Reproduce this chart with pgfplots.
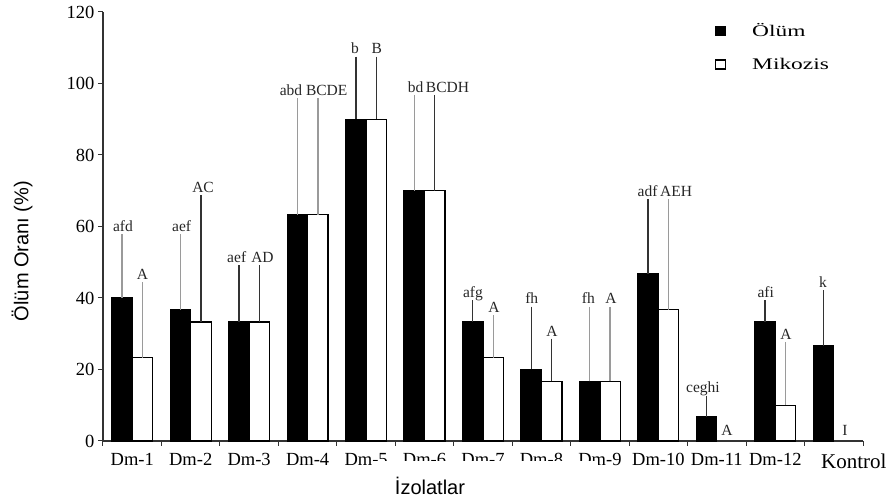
\documentclass[border=0pt]{standalone}
\usepackage{graphicx}
\usepackage{fontspec}
\setmainfont{Liberation Serif}
\setsansfont{Liberation Sans}
\usepackage{pgfplots}
\pgfplotsset{compat=1.18}
\usepackage{pgfplotstable}
\newcommand{\fs}[1]{\fontsize{#1bp}{#1bp}\selectfont}
\definecolor{errdark}{HTML}{333333}
\definecolor{errgray}{HTML}{9A9A9A}

% x  value  error
\pgfplotstableread{
x y e
1 36.7 20.6
3 63.3 32.1
5 70.0 26.3
8 16.7 20.4
0 40.0 17.3
}\olumgray
\pgfplotstableread{
x y e
2 33.3 15.3
4 90.0 17.0
6 33.3 5.5
7 20.0 17.1
9 46.7 20.5
10 6.7 5.5
11 33.3 5.5
12 26.7 14.9
}\olumdark
\pgfplotstableread{
x y e
0 23.3 20.6
3 63.3 32.1
6 23.3 11.3
8 16.7 20.4
9 36.7 30.5
11 10.0 17.1
}\mikgray
\pgfplotstableread{
x y e
1 33.3 35.0
2 33.3 15.3
4 90.0 17.0
5 70.0 26.3
7 16.7 11.4
}\mikdark
\pgfplotstableread{
x y l
-0.158 57.3 afd
0.176 43.9 A
0.846 57.3 aef
1.211 68.3 AC
1.787 48.6 aef
2.228 48.6 AD
2.716 95.4 abd
3.327 95.4 BCDE
3.811 107.0 b
4.182 107.0 B
4.846 96.3 bd
5.393 96.3 BCDH
5.829 38.8 afg
6.188 34.6 A
6.833 37.1 fh
7.180 28.1 A
7.801 37.1 fh
8.190 37.1 A
8.814 67.2 adf
9.302 67.2 AEH
9.763 12.2 ceghi
10.174 0.4 A
10.836 38.8 afi
11.183 27.1 A
11.816 41.6 k
12.192 0.4 I
}\labels

\begin{document}
\begin{tikzpicture}[x=1bp,y=1bp]
\begin{axis}[
  name=ax, at={(0,0)}, anchor=south west,
  width=760bp, height=429bp, scale only axis,
  xmin=-0.5, xmax=12.5, ymin=0, ymax=120,
  axis x line*=bottom, axis y line*=left,
  axis line style={black!80, line width=1.2bp},
  xtick={-0.5,0.5,...,12.5},
  xticklabels={,,},
  extra x ticks={0,1,2,3,4,5,6,7,8,9,10,11,12},
  extra x tick labels={Dm-1,Dm-2,Dm-3,Dm-4,Dm-5,Dm-6,Dm-7,Dm-8,Dm-9,Dm-10,Dm-11,Dm-12,{\fs{21}\hspace*{40bp}Kontrol}},
  extra x tick style={major tick length=0pt, tick label style={font=\fs{18.5}, yshift=-9bp}},
  ytick={0,20,...,120},
  major tick length=5bp,
  tick align=outside,
  tick style={black!80, line width=1bp},
  y tick label style={font=\fs{18.5}},
  /pgf/number format/assume math mode=true,
  clip=false,
  legend cell align=left,
  legend style={draw=none, fill=none, at={(rel axis cs:0.805,0.978)}, anchor=north west,
    font=\fs{18}, row sep=16bp, inner sep=0pt},
  legend image code/.code={\draw[#1, line width=1.2bp] (0bp,-4.5bp) rectangle (9.5bp,4.5bp); \path (34bp,0bp);},
]
\addplot[ybar, bar width=0.35, bar shift=0, fill=black, draw=black, line width=1.2bp,
  error bars/.cd, y dir=plus, y explicit,
  error bar style={errgray, line width=1.4bp},
  error mark options={errgray, mark size=1.8bp, line width=1.4bp}]
  table[x expr=\thisrow{x}-0.175, y=y, y error=e]{\olumgray};
\addlegendentry{\scalebox{1.3}[0.9]{Ölüm}}
\addplot[ybar, bar width=0.35, bar shift=0, fill=white, draw=black, line width=1.2bp,
  error bars/.cd, y dir=plus, y explicit,
  error bar style={errgray, line width=1.4bp},
  error mark options={errgray, mark size=1.8bp, line width=1.4bp}]
  table[x expr=\thisrow{x}+0.175, y=y, y error=e]{\mikgray};
\addlegendentry{\scalebox{1.3}[0.9]{Mikozis}}
\addplot[forget plot, ybar, bar width=0.35, bar shift=0, fill=black, draw=black, line width=1.2bp,
  error bars/.cd, y dir=plus, y explicit,
  error bar style={errdark, line width=1.4bp},
  error mark options={errdark, mark size=1.8bp, line width=1.4bp}]
  table[x expr=\thisrow{x}-0.175, y=y, y error=e]{\olumdark};
\addplot[forget plot, ybar, bar width=0.35, bar shift=0, fill=white, draw=black, line width=1.2bp,
  error bars/.cd, y dir=plus, y explicit,
  error bar style={errdark, line width=1.4bp},
  error mark options={errdark, mark size=1.8bp, line width=1.4bp}]
  table[x expr=\thisrow{x}+0.175, y=y, y error=e]{\mikdark};
\addplot[forget plot, only marks, mark=none, nodes near coords, point meta=explicit symbolic,
  nodes near coords style={font=\fs{15.5}, anchor=base, yshift=4.5bp, text=black!85}]
  table[x=x, y=y, meta=l]{\labels};
\end{axis}
\fill[white] (269,-20) rectangle (495,-62);
\node[font=\sffamily\fs{20}] at (327,-45) {İzolatlar};
\node[font=\sffamily\fs{20}, rotate=90] at (-81,190) {Ölüm Oranı (\%)};
\pgfresetboundingbox
\path[use as bounding box] (-103,-62) rectangle (793,441);
\end{tikzpicture}
\end{document}
